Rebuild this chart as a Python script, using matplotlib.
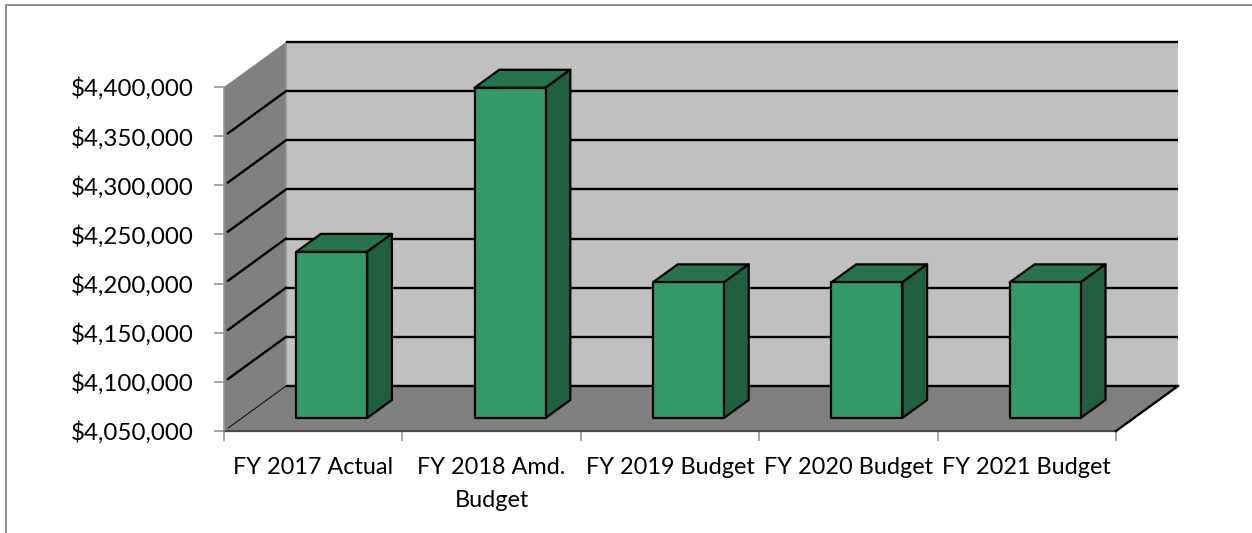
import matplotlib
matplotlib.use('Agg')
import matplotlib.pyplot as plt
from matplotlib.lines import Line2D
from matplotlib.patches import Polygon
from matplotlib.ticker import FuncFormatter, MultipleLocator
import numpy as np

# Data
categories = ['FY 2017 Actual', 'FY 2018 Amd.\nBudget', 'FY 2019 Budget', 'FY 2020 Budget', 'FY 2021 Budget']
values = [4219000, 4386000, 4188000, 4188000, 4188000]
y_min = 4050000
y_max = 4400000
y_step = 50000

W, H = 1252, 533
plt.rcParams['font.family'] = ['Lato', 'DejaVu Sans']

fig = plt.figure(figsize=(W / 100, H / 100), dpi=100)
# axes area is the front plane of the 3d box
ax = fig.add_axes([224 / W, 1 - 431 / H, (1116 - 224) / W, (431 - 87) / H])
ax.set_xlim(0, len(categories))
ax.set_ylim(y_min, y_max)
ax.patch.set_visible(False)
for s in ax.spines.values():
    s.set_visible(False)

# depth of the box, in axis units
dx = 62 / ((1116 - 224) / len(categories))
dy = 45 / ((431 - 87) / (y_max - y_min))


def pt(x, v, d=0.0):
    # d = 0 front plane, d = 1 back wall
    return (x + d * dx, v + d * dy)


def poly(points, color, edge='none', lw=0, z=1):
    ax.add_patch(Polygon(points, closed=True, facecolor=color, edgecolor=edge, linewidth=lw,
                         joinstyle='round', clip_on=False, zorder=z))


n = len(categories)
# walls and floor
poly([pt(0, y_min, 1), pt(n, y_min, 1), pt(n, y_max, 1), pt(0, y_max, 1)], '#C0C0C0', z=1)
poly([pt(0, y_min, 0), pt(0, y_min, 1), pt(0, y_max, 1), pt(0, y_max, 0)], '#808080', z=1)
poly([pt(0, y_min, 0), pt(n, y_min, 0), pt(n, y_min, 1), pt(0, y_min, 1)], '#808080', z=1)

# gridlines on side wall and back wall
for v in np.arange(y_min, y_max + 1, y_step):
    p0, p1, p2 = pt(0.012, v + 1500, 0.03), pt(0, v, 1), pt(n, v, 1)
    if v == y_max:
        ax.plot([p1[0], p2[0]], [p1[1], p2[1]], color='black', lw=1.7, clip_on=False, zorder=2,
                solid_capstyle='butt')
        continue
    lw = 0.7 if v == y_min else 1.7
    ax.plot([p0[0], p1[0]], [p0[1], p1[1]], color='black', lw=lw, clip_on=False, zorder=2)
    ax.plot([p1[0], p2[0]], [p1[1], p2[1]], color='black', lw=1.7, clip_on=False, zorder=2,
            solid_capstyle='butt')

# lighter seam where back wall meets side wall
a, b = pt(0, y_min, 1), pt(0, y_max, 1)
ax.plot([a[0], b[0]], [a[1], b[1]], color='#969696', lw=1.2, clip_on=False, zorder=1.5)

# floor edges
a, b, c = pt(0, y_min), pt(n, y_min), pt(n, y_min, 1)
ax.plot([a[0], b[0]], [a[1], b[1]], color='#4a4a4a', lw=1.6, clip_on=False, zorder=2)
ax.plot([b[0], c[0]], [b[1], c[1]], color='black', lw=1.7, clip_on=False, zorder=2)
a, b = pt(0, y_min), pt(0, y_max)
ax.plot([a[0], b[0]], [a[1], b[1]], color='#969696', lw=1.2, clip_on=False, zorder=2)

# bars
bar_w = 71 / ((1116 - 224) / n)
d0 = 13 / 45
d1 = 31 / 45
x_nudge = 0.5 / ((1116 - 224) / n)
for i, v in enumerate(values):
    x0 = i + 0.5 - bar_w / 2 + x_nudge
    x1 = i + 0.5 + bar_w / 2 + x_nudge
    poly([pt(x0, v, d0), pt(x0, v, d1), pt(x1, v, d1), pt(x1, v, d0)], '#26734D', 'black', 1.6, 3)
    poly([pt(x1, y_min, d0), pt(x1, y_min, d1), pt(x1, v, d1), pt(x1, v, d0)], '#206040', 'black', 1.6, 3)
    poly([pt(x0, y_min, d0), pt(x1, y_min, d0), pt(x1, v, d0), pt(x0, v, d0)], '#339966', 'black', 1.6, 4)

# axes ticks
ax.yaxis.set_major_locator(MultipleLocator(y_step))
ax.yaxis.set_major_formatter(FuncFormatter(lambda v, p: '${:,.0f}'.format(v)))
ax.tick_params(axis='y', length=7.5, width=1.2, color='#969696', labelsize=17.4, pad=14.5, labelcolor='black')
ax.set_xticks(np.arange(n + 1), minor=True)
ax.set_xticks(np.arange(n) + 0.5)
ax.set_xticklabels(categories, linespacing=1.72)
ax.tick_params(axis='x', which='major', length=0, labelsize=16.9, pad=18.7)
ax.tick_params(axis='x', which='minor', length=7.5, width=1.2, color='#969696')

# chart area border, only top and left show in the crop
fig.add_artist(Line2D([5.5 / W, 5.5 / W, 1], [0, 1 - 5 / H, 1 - 5 / H], transform=fig.transFigure,
                      color='#8c8c8c', linewidth=1.4, solid_joinstyle='miter'))

fig.savefig('out.png', dpi=100)
